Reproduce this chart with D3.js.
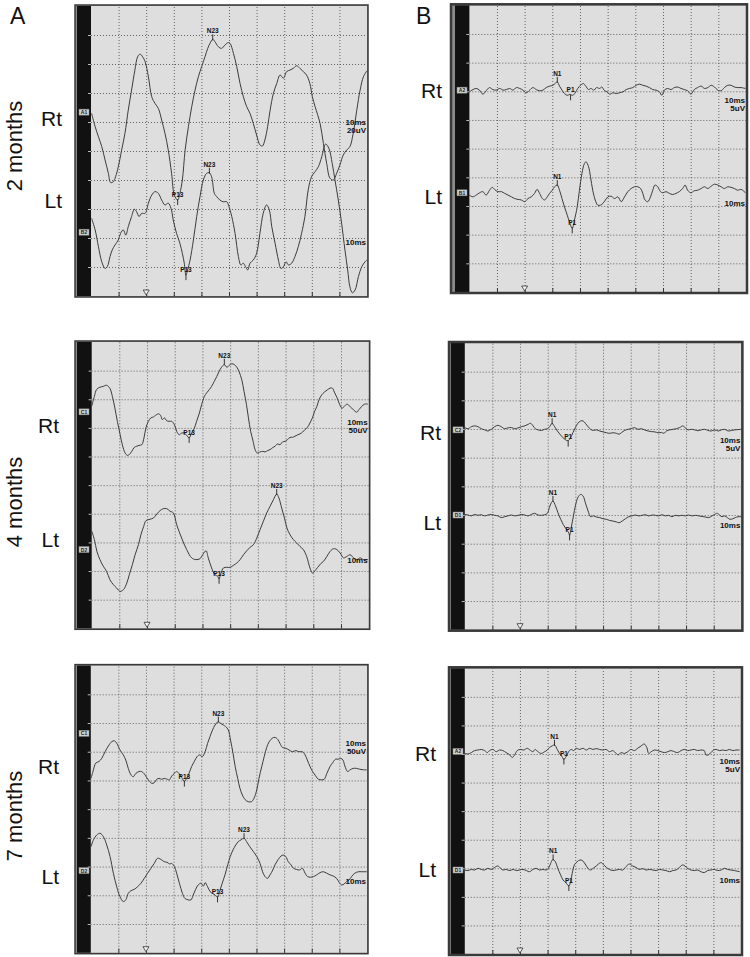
<!DOCTYPE html>
<html>
<head>
<meta charset="utf-8">
<script src="https://cdn.jsdelivr.net/npm/d3@7"></script>
<style>
  html, body { margin: 0; padding: 0; background: #fff; }
  svg { display: block; font-family: "Liberation Sans", Arial, sans-serif; }
</style>
</head>
<body>
<div id="chart"></div>
<script>
// time in ms (10 ms / division), amplitude in screen divisions above the panel bottom
const timeDomain = [0, 100];
const ampDomain = [0, 10];
const gridTimes = d3.range(10, 100, 10);
const gridAmps = d3.range(1, 10);
const stimulusMs = 20;

const panelLetters = ["A", "B"];
const ageLabels = ["2 months", "4 months", "7 months"];
const sideLabels = ["Rt", "Lt"];
const sweepLabel = "10ms";
const gainA = ["20uV", "50uV", "50uV"];
const gainB = ["5uV", "5uV", "5uV"];
const channelsA = [["A1", "B2"], ["C1", "D2"], ["C1", "D2"]];
const channelsB = [["A2", "B1"], ["C2", "D1"], ["A2", "D1"]];
const baselinesA = [[6.34, 2.2], [7.56, 2.75], [7.64, 2.86]];
const baselinesB = [[7.04, 3.46], [6.97, 4.0], [7.09, 2.94]];

// 2 months, column A
const rt2A = [[0.2,6.30],[1.5,5.84],[2.7,5.49],[3.9,5.15],[5.1,4.69],[6.3,4.23],[7.1,3.91],[8.1,3.94],[8.9,4.11],[9.9,4.46],[11.1,5.03],[12.3,5.61],[13.5,6.41],[14.7,7.10],[15.9,7.79],[16.9,8.25],[17.8,8.34],[18.7,8.25],[19.6,8.08],[20.8,7.56],[22.0,6.87],[23.2,6.64],[24.4,6.47],[25.6,6.07],[26.8,5.61],[28.0,5.03],[29.2,4.23],[30.2,3.48],[31.4,3.31],[32.2,3.54],[33.1,4.00],[34.1,5.03],[35.3,5.84],[36.5,6.53],[37.7,7.10],[38.9,7.56],[40.1,7.91],[41.3,8.25],[42.3,8.54],[43.1,8.71],[44.1,8.85],[44.9,8.77],[46.1,8.60],[47.3,8.54],[48.6,8.66],[49.8,8.74],[50.4,8.71],[51.6,8.37],[52.8,7.91],[54.0,7.33],[55.2,6.87],[56.4,6.53],[57.6,6.30],[58.8,5.95],[60.0,5.55],[61.2,5.21],[62.1,5.17],[63.0,5.38],[64.0,5.84],[64.9,6.41],[66.1,6.99],[67.3,7.33],[68.5,7.62],[69.7,7.51],[70.9,7.74],[72.1,7.79],[73.3,7.85],[74.5,7.94],[75.7,7.85],[76.9,7.74],[78.1,7.62],[79.3,7.33],[80.2,6.87],[81.2,6.53],[83.0,5.95],[84.2,5.26],[85.4,4.57],[86.6,4.06],[87.8,4.00],[89.0,4.23],[90.2,4.52],[91.4,4.86],[92.6,5.03],[93.8,5.15],[95.0,5.61],[96.3,6.41],[97.5,7.10],[98.7,7.56],[100,7.77]];
const lt2A = [[0.2,2.68],[1.5,2.28],[2.7,1.70],[3.9,1.18],[5.1,0.95],[5.9,1.01],[6.9,1.36],[7.7,1.59],[8.7,1.76],[9.9,1.93],[10.7,2.16],[11.7,2.28],[12.6,2.10],[13.5,2.39],[14.7,2.74],[15.7,2.99],[16.5,2.91],[17.4,2.74],[18.4,2.85],[19.6,2.85],[20.8,3.20],[22.0,3.48],[23.2,3.60],[24.4,3.54],[25.6,3.31],[26.8,3.14],[28.0,3.20],[29.0,3.02],[29.8,2.62],[31.0,2.16],[32.2,1.82],[33.1,1.47],[33.8,1.13],[34.4,0.72],[35.0,0.90],[35.9,1.24],[37.1,1.93],[38.3,2.74],[39.5,3.43],[40.7,4.00],[41.9,4.23],[42.9,4.25],[43.7,4.11],[44.7,3.54],[45.5,3.43],[46.7,3.31],[47.9,3.25],[49.2,3.25],[50.0,3.08],[51.0,2.74],[52.2,2.16],[53.4,1.36],[54.3,1.07],[55.2,1.13],[56.0,1.01],[56.8,0.90],[57.6,1.13],[58.8,1.24],[60.0,1.47],[61.2,2.16],[62.4,2.85],[63.6,3.14],[64.6,2.97],[65.5,2.39],[66.7,1.82],[67.9,1.24],[68.8,0.95],[69.7,1.01],[70.7,1.18],[71.5,1.07],[72.7,1.13],[73.9,1.36],[75.1,1.70],[76.3,2.16],[77.5,2.74],[78.7,3.66],[79.9,4.11],[81.2,4.29],[82.4,4.46],[83.6,4.80],[85.0,5.24],[86.2,5.09],[87.4,4.57],[88.4,4.00],[89.6,3.31],[90.8,2.51],[92.0,1.59],[93.0,0.90],[93.8,0.32],[94.7,0.11],[95.7,0.21],[96.9,0.67],[98.1,1.01],[99.3,1.18],[100,1.24]];
// 2 months, column B
const rt2B = [[0,6.98],[1.3,7.06],[2.5,7.10],[3.7,7.04],[4.9,6.90],[6.1,7.02],[7.3,7.13],[8.5,7.06],[9.7,7.04],[11.0,7.10],[12.2,7.04],[13.4,7.06],[14.6,7.10],[15.8,7.04],[17.0,7.13],[18.2,7.10],[19.4,7.04],[20.6,6.95],[21.8,7.04],[23.0,7.13],[24.2,7.06],[25.4,7.02],[26.6,7.04],[27.8,7.13],[29.0,7.18],[30.2,7.21],[31.0,7.27],[31.8,7.33],[32.6,7.18],[33.5,7.04],[34.4,6.92],[35.4,6.86],[36.3,6.89],[37.4,6.86],[38.3,6.95],[39.2,7.10],[40.2,7.21],[41.2,7.27],[42.1,7.18],[43.1,7.06],[44.0,7.10],[45.0,7.04],[46.0,7.13],[47.1,7.10],[47.9,7.15],[48.9,7.02],[49.8,6.98],[50.8,6.90],[51.9,6.95],[53.1,6.92],[54.3,6.95],[55.5,6.98],[56.7,7.06],[57.9,7.10],[59.1,7.13],[60.3,7.21],[61.5,7.25],[62.7,7.21],[63.9,7.18],[65.1,7.13],[66.3,7.06],[67.5,7.04],[68.7,6.98],[69.6,6.86],[70.5,7.04],[71.7,7.10],[72.9,7.06],[74.1,7.13],[75.3,7.15],[76.5,7.10],[77.7,7.06],[78.9,7.02],[80.1,6.90],[81.3,7.06],[82.5,7.13],[83.8,7.18],[85.0,7.10],[86.2,7.13],[87.4,7.21],[88.6,7.15],[89.8,7.04],[91.0,7.02],[92.2,7.13],[93.4,7.21],[94.6,7.21],[95.8,7.15],[97.0,7.13],[98.2,7.13],[99.8,7.10]];
const lt2B = [[0,3.38],[1.3,3.32],[2.5,3.38],[3.7,3.46],[4.9,3.50],[6.1,3.38],[7.3,3.55],[8.3,3.65],[9.1,3.58],[10.3,3.50],[11.6,3.50],[12.8,3.44],[14.0,3.38],[15.2,3.32],[16.4,3.26],[17.6,3.23],[18.8,3.21],[20.0,3.15],[21.2,3.26],[22.4,3.32],[23.6,3.44],[24.5,3.58],[25.4,3.44],[26.4,3.26],[27.2,3.21],[28.2,3.32],[29.0,3.44],[30.0,3.55],[30.8,3.67],[31.8,3.73],[32.6,3.55],[33.5,3.26],[34.4,2.97],[35.4,2.68],[36.2,2.45],[37.2,2.22],[38.0,2.51],[39.0,2.97],[39.8,3.55],[40.7,4.13],[41.6,4.48],[42.2,4.54],[43.1,4.37],[43.8,4.02],[44.6,3.55],[45.5,3.21],[46.4,3.03],[47.4,3.03],[48.3,3.09],[49.2,3.21],[50.1,3.32],[51.3,3.34],[52.5,3.26],[53.7,3.32],[54.9,3.15],[56.1,3.32],[57.3,3.50],[58.5,3.61],[59.7,3.67],[60.9,3.67],[61.9,3.61],[62.7,3.44],[63.5,3.21],[64.5,3.15],[65.5,3.32],[66.3,3.55],[67.1,3.73],[68.1,3.67],[69.1,3.50],[69.9,3.46],[71.1,3.50],[72.3,3.44],[73.5,3.40],[74.7,3.44],[75.9,3.50],[77.1,3.61],[78.0,3.73],[78.9,3.55],[80.1,3.46],[81.3,3.53],[82.5,3.55],[83.8,3.61],[85.0,3.67],[86.2,3.61],[87.4,3.69],[88.6,3.76],[89.8,3.73],[91.0,3.67],[92.2,3.61],[93.4,3.67],[94.6,3.65],[95.8,3.61],[97.0,3.55],[98.2,3.58],[99.8,3.46]];
// 4 months, column A
const rt4A = [[0,7.75],[1.0,8.10],[1.8,8.34],[3.0,8.42],[4.2,8.45],[5.4,8.49],[6.6,8.38],[7.5,8.10],[8.4,7.69],[9.3,7.23],[10.3,6.76],[11.1,6.41],[12.1,6.12],[12.9,6.04],[13.6,6.07],[14.5,6.18],[15.4,6.32],[16.3,6.36],[17.1,6.39],[18.1,6.41],[18.9,6.65],[19.6,7.00],[20.5,7.23],[21.4,7.35],[22.3,7.38],[23.1,7.44],[24.1,7.49],[24.9,7.44],[25.5,7.29],[26.3,7.35],[27.1,7.25],[27.9,7.23],[28.9,7.23],[29.9,7.11],[30.7,6.88],[31.6,6.76],[32.5,6.82],[33.4,6.82],[34.3,6.74],[35.2,6.65],[36.1,6.82],[37.0,6.97],[37.9,7.23],[38.9,7.52],[39.7,7.81],[40.7,8.10],[41.5,8.22],[42.5,8.34],[43.3,8.45],[44.3,8.63],[45.2,8.80],[46.0,8.97],[46.9,9.12],[47.9,9.21],[48.8,9.12],[49.6,9.18],[50.6,9.24],[51.5,9.21],[52.4,9.12],[53.2,8.97],[54.2,8.68],[55.0,8.28],[55.9,7.81],[56.6,7.35],[57.4,6.88],[58.3,6.53],[59.0,6.24],[59.8,6.12],[60.8,6.16],[61.8,6.18],[62.6,6.16],[63.6,6.21],[64.4,6.24],[65.2,6.30],[66.2,6.36],[67.1,6.44],[68.0,6.41],[68.9,6.51],[69.8,6.53],[70.7,6.59],[71.6,6.67],[72.5,6.67],[73.4,6.71],[74.4,6.76],[75.2,6.79],[76.1,6.85],[77.0,6.94],[77.9,7.02],[78.8,7.17],[79.7,7.35],[80.4,7.56],[81.3,7.75],[82.1,7.99],[83.1,8.16],[84.0,8.25],[85.1,8.33],[86.1,8.39],[86.9,8.39],[87.6,8.25],[88.5,8.07],[89.3,7.87],[90.3,7.69],[91.2,7.75],[92.1,7.83],[92.9,7.78],[93.9,7.69],[94.7,7.61],[95.7,7.55],[96.5,7.64],[97.5,7.75],[98.5,7.83],[99.7,7.83]];
const lt4A = [[0,3.41],[1.0,3.10],[1.9,2.69],[3.0,2.40],[4.2,2.17],[5.4,1.99],[6.6,1.70],[7.8,1.53],[9.0,1.41],[10.3,1.29],[11.5,1.35],[12.7,1.58],[13.6,1.87],[14.7,2.22],[15.7,2.57],[16.9,2.92],[17.8,3.27],[18.8,3.56],[19.6,3.76],[20.7,3.80],[22.3,3.85],[23.5,3.99],[24.7,4.11],[25.9,4.18],[27.1,4.18],[28.3,4.09],[29.5,4.03],[30.7,3.62],[32.5,3.15],[34.3,2.75],[36.1,2.46],[37.6,2.40],[39.1,2.43],[40.1,2.57],[41.3,2.71],[42.1,2.46],[43.3,2.11],[44.5,1.87],[45.5,1.82],[46.0,1.73],[46.7,1.93],[47.6,2.11],[48.8,2.13],[50.0,2.13],[51.2,2.20],[52.4,2.28],[53.6,2.40],[54.8,2.57],[56.0,2.71],[57.2,2.83],[58.4,2.92],[59.6,3.15],[60.8,3.45],[62.0,3.74],[63.2,4.03],[64.4,4.26],[65.6,4.49],[66.8,4.69],[67.6,4.55],[68.6,4.20],[69.6,3.85],[70.5,3.50],[71.6,3.27],[72.8,3.10],[74.0,2.98],[75.2,2.86],[76.4,2.75],[77.6,2.51],[78.8,2.11],[79.7,1.93],[80.6,2.01],[81.6,2.13],[82.6,2.25],[83.7,2.34],[84.9,2.51],[86.1,2.69],[87.3,2.78],[88.5,2.75],[89.7,2.63],[90.9,2.46],[92.1,2.51],[93.3,2.57],[94.5,2.46],[95.7,2.40],[96.9,2.46],[98.1,2.40],[99.7,2.40]];
// 4 months, column B
const rt4B = [[0,7.05],[1.2,7.01],[2.4,7.08],[3.6,7.11],[4.8,7.08],[6.0,7.01],[7.2,6.97],[8.4,6.93],[9.6,6.99],[10.8,7.08],[12.0,7.13],[13.2,7.08],[14.4,7.01],[15.6,7.04],[16.9,7.05],[18.1,7.01],[19.3,7.04],[20.5,7.08],[21.7,7.11],[22.9,7.16],[23.8,7.20],[24.7,7.11],[25.5,7.01],[26.5,6.97],[27.7,6.95],[28.9,6.99],[29.9,7.01],[30.7,7.08],[31.6,7.20],[32.5,7.08],[33.5,6.93],[34.4,6.82],[35.5,6.70],[36.5,6.62],[37.3,6.59],[38.3,6.70],[39.1,6.87],[40.0,7.05],[40.9,7.20],[41.9,7.28],[42.8,7.28],[43.6,7.20],[44.6,7.08],[45.5,6.99],[46.5,6.95],[47.6,6.97],[48.8,6.93],[50.0,6.90],[51.2,6.87],[52.4,6.85],[53.6,6.87],[54.8,6.85],[55.8,6.82],[56.6,6.87],[57.8,6.95],[59.0,6.99],[60.2,7.01],[61.4,7.05],[62.6,6.99],[63.8,7.01],[65.0,6.97],[66.3,6.93],[67.5,6.91],[68.7,6.90],[69.9,6.87],[71.1,6.88],[72.0,6.85],[72.9,6.93],[74.1,6.97],[75.3,6.99],[76.5,7.01],[77.7,7.05],[78.9,7.11],[79.7,7.04],[80.7,6.97],[81.9,6.99],[83.1,6.97],[84.3,6.94],[85.5,6.97],[86.7,6.99],[87.9,6.95],[89.1,6.93],[90.3,6.97],[91.6,6.93],[92.8,6.97],[94.0,6.99],[95.2,6.93],[96.4,6.95],[97.6,6.97],[98.8,6.98],[100,6.99]];
const lt4B = [[0,4.02],[1.2,4.00],[2.4,3.97],[3.6,4.02],[4.8,3.99],[6.0,4.01],[7.2,3.97],[8.4,4.00],[9.6,4.02],[10.8,3.99],[12.0,3.97],[13.2,3.91],[14.4,3.94],[15.6,3.97],[16.9,4.00],[18.1,3.97],[19.3,3.99],[20.5,4.02],[21.7,4.00],[22.9,3.97],[24.1,4.02],[25.3,4.06],[26.5,4.00],[27.7,3.99],[28.9,4.01],[29.9,4.06],[30.6,4.26],[31.3,4.43],[31.9,4.49],[32.8,4.32],[33.7,4.08],[34.7,3.85],[35.6,3.67],[36.6,3.52],[37.6,3.38],[37.9,3.29],[38.5,3.56],[39.3,3.97],[40.0,4.32],[40.9,4.61],[41.9,4.72],[42.8,4.66],[43.6,4.43],[44.6,4.14],[45.5,3.94],[46.5,3.97],[47.6,3.93],[48.8,3.91],[50.0,3.87],[51.2,3.85],[52.4,3.81],[53.6,3.79],[54.8,3.76],[55.8,3.73],[56.9,3.79],[58.1,3.87],[59.3,3.94],[60.5,3.97],[61.7,4.00],[62.9,3.97],[64.1,3.99],[65.3,4.01],[66.5,3.97],[67.7,4.00],[68.9,3.99],[70.1,3.97],[71.3,4.01],[72.5,3.97],[73.7,3.99],[74.9,3.94],[76.1,3.99],[77.3,3.97],[78.5,3.99],[79.7,3.97],[80.9,4.00],[82.2,3.97],[83.4,3.99],[84.6,3.97],[85.8,3.95],[87.0,3.93],[88.2,3.91],[89.4,3.97],[90.3,4.02],[91.3,4.06],[92.2,3.99],[93.0,3.94],[94.0,3.97],[94.9,3.91],[95.9,3.85],[96.9,3.87],[97.8,3.91],[98.8,3.94],[100,3.94]];
// 7 months, column A
const rt7A = [[0.1,6.07],[1.0,6.37],[1.8,6.60],[3.0,6.66],[4.0,6.77],[5.2,7.00],[6.4,7.20],[7.6,7.35],[8.6,7.38],[9.4,7.30],[10.6,7.06],[11.8,6.89],[12.7,6.71],[13.6,6.42],[14.6,6.19],[15.4,6.13],[16.4,6.25],[17.5,6.31],[18.4,6.31],[19.4,6.23],[20.2,6.11],[21.1,5.99],[22.1,5.90],[23.0,5.92],[23.9,6.04],[24.7,6.07],[25.7,6.04],[26.6,6.07],[27.5,6.05],[28.5,6.02],[29.3,6.15],[30.3,6.25],[31.1,6.31],[31.9,6.25],[32.9,6.11],[33.9,5.96],[34.7,6.07],[35.6,6.25],[36.5,6.48],[37.5,6.66],[38.5,6.83],[39.4,6.89],[40.4,6.83],[41.4,7.00],[42.3,7.29],[43.2,7.53],[44.1,7.76],[45.0,7.93],[46.2,8.05],[47.0,7.99],[48.0,7.93],[48.8,7.88],[49.8,7.76],[50.6,7.41],[51.5,6.95],[52.3,6.48],[53.2,6.07],[54.0,5.73],[54.9,5.49],[55.8,5.34],[57.0,5.26],[58.2,5.26],[59.1,5.38],[60.1,5.67],[60.9,6.07],[61.9,6.48],[62.8,6.83],[63.7,7.15],[64.6,7.35],[65.7,7.47],[66.7,7.50],[67.7,7.43],[68.5,7.29],[69.4,7.15],[70.6,7.12],[71.8,7.06],[73.0,7.00],[74.2,7.04],[75.4,7.00],[76.6,7.00],[77.6,6.89],[78.4,6.71],[79.4,6.48],[80.3,6.31],[81.4,6.16],[82.4,6.04],[83.6,6.02],[84.5,6.04],[85.5,6.25],[86.6,6.48],[87.6,6.62],[88.6,6.74],[89.6,6.74],[90.5,6.77],[91.3,6.71],[92.0,6.50],[93.0,6.31],[93.9,6.37],[95.0,6.42],[96.2,6.42],[97.4,6.39],[98.7,6.37],[99.9,6.37]];
const lt7A = [[0.1,3.69],[1.0,3.93],[2.2,4.10],[3.4,4.16],[4.6,4.04],[5.8,3.75],[7.0,3.35],[8.2,2.77],[9.4,2.30],[10.6,1.95],[11.8,1.78],[12.7,1.84],[13.6,2.07],[14.6,2.16],[15.8,2.21],[17.0,2.30],[18.2,2.42],[19.4,2.59],[20.6,2.77],[21.8,2.94],[23.0,3.11],[24.2,3.29],[25.4,3.25],[26.6,3.17],[27.6,3.15],[28.6,3.09],[29.3,3.11],[30.3,3.00],[31.1,2.77],[32.1,2.42],[33.2,2.07],[34.1,1.89],[35.3,1.84],[36.3,1.84],[37.1,2.01],[38.0,2.21],[38.9,2.36],[39.9,2.42],[40.8,2.32],[41.4,2.44],[42.3,2.30],[43.2,2.13],[44.0,2.07],[45.0,2.01],[45.9,1.93],[46.8,2.18],[47.6,2.42],[48.6,2.71],[49.6,3.06],[50.5,3.35],[51.5,3.58],[52.5,3.75],[53.4,3.87],[54.4,3.93],[55.5,3.99],[56.4,3.87],[57.6,3.69],[58.9,3.52],[60.1,3.35],[61.3,3.11],[62.2,2.82],[63.1,2.65],[64.0,2.59],[64.9,2.71],[65.9,2.88],[66.7,3.06],[67.9,3.25],[68.9,3.37],[69.7,3.40],[70.6,3.35],[71.5,3.17],[72.5,3.06],[73.4,2.94],[74.5,2.90],[75.6,2.88],[76.6,2.94],[77.6,2.77],[78.5,2.65],[79.5,2.63],[80.6,2.65],[81.8,2.71],[83.0,2.79],[84.2,2.82],[85.4,2.77],[86.6,2.71],[87.8,2.67],[89.0,2.59],[90.0,2.44],[90.8,2.36],[91.7,2.39],[92.6,2.48],[93.5,2.53],[94.4,2.65],[95.6,2.77],[96.9,2.82],[98.1,2.82],[99.9,2.82]];
// 7 months, column B
const rt7B = [[0,7.02],[1.2,7.00],[2.4,7.05],[3.6,7.12],[4.8,7.14],[6.0,7.16],[7.2,7.12],[8.2,7.05],[9.0,7.12],[10.2,7.16],[11.4,7.08],[12.6,7.14],[13.8,7.12],[15.0,7.05],[16.3,6.97],[17.2,6.88],[18.1,6.97],[19.0,7.12],[20.2,7.16],[21.4,7.14],[22.6,7.20],[23.6,7.14],[24.7,7.08],[25.5,7.16],[26.5,7.08],[27.7,7.02],[28.9,7.08],[29.9,7.14],[30.7,7.23],[31.6,7.28],[32.5,7.32],[33.5,7.16],[34.3,7.02],[35.2,6.91],[35.9,6.81],[36.7,6.91],[37.6,7.08],[38.5,7.16],[39.5,7.12],[40.3,7.20],[41.6,7.16],[42.8,7.20],[44.0,7.14],[45.2,7.20],[46.4,7.16],[47.6,7.19],[48.8,7.16],[50.0,7.14],[51.2,7.16],[52.4,7.08],[53.6,7.12],[54.8,7.02],[55.6,6.97],[56.6,7.05],[57.8,7.02],[59.0,7.08],[60.2,7.16],[61.4,7.12],[62.6,7.20],[63.8,7.28],[65.0,7.35],[65.9,7.23],[66.6,7.02],[67.5,7.08],[68.7,7.14],[69.9,7.12],[71.1,7.08],[72.3,7.05],[73.5,7.08],[74.7,7.12],[75.9,7.08],[77.1,7.05],[78.3,7.12],[79.5,7.16],[80.7,7.12],[81.9,7.14],[83.1,7.16],[84.3,7.12],[85.5,7.14],[86.7,7.12],[87.3,6.97],[88.2,6.97],[89.1,7.05],[90.1,7.14],[91.0,7.16],[92.2,7.12],[93.4,7.14],[94.6,7.12],[95.8,7.16],[97.0,7.12],[98.2,7.14],[99.5,7.14]];
const lt7B = [[0,2.94],[1.2,2.92],[2.4,2.96],[3.6,2.94],[4.8,3.00],[6.0,2.96],[7.2,2.94],[8.4,3.00],[9.6,2.96],[10.8,3.03],[12.0,3.08],[13.0,3.00],[13.8,2.94],[15.0,2.96],[16.3,2.92],[17.5,2.96],[18.7,2.92],[19.9,2.94],[21.1,2.96],[22.3,2.92],[23.5,2.88],[24.7,2.96],[25.9,3.00],[27.1,2.94],[28.3,2.96],[29.5,2.94],[30.3,3.00],[31.1,3.17],[31.7,3.29],[32.0,3.31],[32.8,3.23],[33.7,3.00],[34.7,2.77],[35.6,2.59],[36.6,2.50],[37.7,2.38],[38.3,2.53],[38.9,2.82],[39.7,3.12],[40.7,3.23],[41.7,3.29],[42.6,3.27],[43.6,3.15],[44.6,3.00],[45.5,2.94],[46.5,3.00],[47.6,3.08],[48.4,3.15],[49.4,3.20],[50.3,3.12],[51.3,3.03],[52.4,2.96],[53.6,2.92],[54.8,2.94],[56.0,2.96],[57.2,2.94],[58.4,3.06],[59.6,3.15],[60.8,3.08],[62.0,3.03],[63.2,2.96],[64.4,2.99],[65.6,2.94],[66.9,2.96],[68.1,2.94],[69.3,2.92],[70.5,2.96],[71.7,2.94],[72.9,2.92],[74.1,2.88],[75.3,2.92],[76.5,2.94],[77.7,3.03],[78.9,3.12],[79.7,3.08],[80.7,3.00],[81.9,2.94],[83.1,2.92],[84.3,2.94],[85.5,2.88],[86.7,2.85],[87.9,2.92],[89.1,2.94],[90.3,2.96],[91.6,2.92],[92.8,2.94],[94.0,3.00],[95.2,2.96],[96.4,2.94],[97.6,2.92],[99.5,2.88]];

// peak marks: [label, trace index (0 = Rt, 1 = Lt), latency ms, amplitude div]
const peaks2A = [["N23",0,44.1,8.85],["P13",0,31.4,3.31],["N23",1,42.9,4.25],["P13",1,34.4,0.72]];
const peaks2B = [["N1",0,31.8,7.33],["P1",0,36.6,6.86],["N1",1,31.8,3.73],["P1",1,37.2,2.22]];
const peaks4A = [["N23",0,47.9,9.24],["P13",0,35.2,6.65],["N23",1,66.8,4.69],["P13",1,46.0,1.73]];
const peaks4B = [["N1",0,31.6,7.20],["P1",0,37.4,6.56],["N1",1,31.9,4.49],["P1",1,37.9,3.29]];
const peaks7A = [["N23",0,46.2,8.05],["P13",0,33.9,5.96],["N23",1,55.5,3.99],["P13",1,45.9,1.93]];
const peaks7B = [["N1",0,32.5,7.32],["P1",0,35.9,6.81],["N1",1,32.0,3.31],["P1",1,37.7,2.38]];

const svg = d3.select("#chart").append("svg")
  .attr("width", 750)
  .attr("height", 957);

// panel boxes on the page
const layout = [
  {bar: 77,  strip: 2, x0: 91,    x1: 367,   y0: 6,     y1: 296,   rt: [62, 126],  lt: [62, 208],  frame: 1.5},
  {bar: 455, strip: 4, x0: 469.3, x1: 746,   y0: 5.3,   y1: 292,   rt: [442, 98],  lt: [442, 204], frame: 2.5},
  {bar: 77,  strip: 2, x0: 91.6,  x1: 368.7, y0: 342,   y1: 628.3, rt: [59, 433],  lt: [59, 547],  frame: 1.5},
  {bar: 451, strip: 2, x0: 464.7, x1: 741.4, y0: 343,   y1: 629.7, rt: [441, 440], lt: [441, 530], frame: 2.5},
  {bar: 77,  strip: 2, x0: 90.7,  x1: 367,   y0: 665.6, y1: 952.7, rt: [59, 774],  lt: [59, 884],  frame: 1.5},
  {bar: 451, strip: 2, x0: 464.7, x1: 741,   y0: 668.3, y1: 954,   rt: [436, 761], lt: [436, 877], frame: 2.5}
];

const traces = [[rt2A, lt2A], [rt2B, lt2B], [rt4A, lt4A], [rt4B, lt4B], [rt7A, lt7A], [rt7B, lt7B]];
const peaks = [peaks2A, peaks2B, peaks4A, peaks4B, peaks7A, peaks7B];

layout.forEach((p, i) => {
  const row = Math.floor(i / 2);
  const isB = i % 2 === 1;
  const names = isB ? channelsB[row] : channelsA[row];
  const bases = isB ? baselinesB[row] : baselinesA[row];
  const gain = isB ? gainB[row] : gainA[row];

  const x = d3.scaleLinear().domain(timeDomain).range([p.x0, p.x1]);
  const y = d3.scaleLinear().domain(ampDomain).range([p.y1, p.y0]);
  const g = svg.append("g");

  // outer frame + screen
  g.append("rect")
    .attr("x", p.bar - p.strip).attr("y", p.y0 - 1)
    .attr("width", p.x1 - p.bar + p.strip + 1).attr("height", p.y1 - p.y0 + 2)
    .attr("fill", "#8a8a8a");
  g.append("rect")
    .attr("x", p.x0).attr("y", p.y0)
    .attr("width", p.x1 - p.x0).attr("height", p.y1 - p.y0)
    .attr("fill", "#dedede");
  g.append("rect")
    .attr("x", p.bar).attr("y", p.y0)
    .attr("width", p.x0 - p.bar).attr("height", p.y1 - p.y0)
    .attr("fill", "#111");

  // dotted grid
  const vGrid = g.append("g")
    .attr("transform", "translate(0," + p.y1 + ")")
    .call(d3.axisBottom(x).tickValues(gridTimes).tickSize(-(p.y1 - p.y0)).tickFormat(""));
  const hGrid = g.append("g")
    .attr("transform", "translate(" + p.x0 + ",0)")
    .call(d3.axisLeft(y).tickValues(gridAmps).tickSize(-(p.x1 - p.x0)).tickFormat(""));
  [vGrid, hGrid].forEach(a => {
    a.select(".domain").remove();
    a.selectAll("line").attr("stroke", "#555").attr("stroke-width", 0.9).attr("stroke-dasharray", "1,2");
  });

  // solid short ticks on bottom edge and white ticks on the black bar
  const bTicks = g.append("g")
    .attr("transform", "translate(0," + p.y1 + ")")
    .call(d3.axisBottom(x).tickValues(gridTimes).tickSize(-4).tickFormat(""));
  bTicks.select(".domain").remove();
  bTicks.selectAll("line").attr("stroke", "#333").attr("stroke-width", 1);
  const lTicks = g.append("g")
    .attr("transform", "translate(" + p.x0 + ",0)")
    .call(d3.axisLeft(y).tickValues(gridAmps).tickSize(3).tickFormat(""));
  lTicks.select(".domain").remove();
  lTicks.selectAll("line").attr("stroke", "#bbb").attr("stroke-width", 1);

  // stimulus marker
  const sx = x(stimulusMs);
  g.append("path")
    .attr("d", `M${sx - 3},${p.y1 - 6}L${sx + 3},${p.y1 - 6}L${sx},${p.y1 - 1}Z`)
    .attr("fill", "#f4f4f4").attr("stroke", "#333").attr("stroke-width", 0.8);

  // frame line
  g.append("rect")
    .attr("x", p.bar - p.strip).attr("y", p.y0 - 1)
    .attr("width", p.x1 - p.bar + p.strip + 1).attr("height", p.y1 - p.y0 + 2)
    .attr("fill", "none").attr("stroke", "#3a3a3a").attr("stroke-width", p.frame);

  // traces
  const line = d3.line()
    .x(d => x(d[0]))
    .y(d => y(d[1]))
    .curve(d3.curveCatmullRom.alpha(0.5));
  traces[i].forEach(tr => {
    g.append("path")
      .datum(tr)
      .attr("d", line)
      .attr("fill", "none")
      .attr("stroke", "#3c3c3c")
      .attr("stroke-width", 1);
  });

  // channel tags on the black bar
  names.forEach((nm, k) => {
    const cy = y(bases[k]);
    g.append("rect")
      .attr("x", p.bar + 2).attr("y", cy - 3)
      .attr("width", 10).attr("height", 6)
      .attr("fill", "#cfcfcf").attr("stroke", "#888").attr("stroke-width", 0.5);
    g.append("text")
      .attr("x", p.bar + 7).attr("y", cy + 2)
      .attr("text-anchor", "middle")
      .attr("font-size", 5).attr("font-weight", "bold").attr("fill", "#222")
      .text(nm);

    // sweep / gain on the right edge
    g.append("text")
      .attr("x", p.x1 - 1).attr("y", cy + 13)
      .attr("text-anchor", "end")
      .attr("font-size", 8).attr("font-weight", "bold").attr("fill", "#111")
      .text(sweepLabel);
    if (k === 0) {
      g.append("text")
        .attr("x", p.x1 - 1).attr("y", cy + 21)
        .attr("text-anchor", "end")
        .attr("font-size", 8).attr("font-weight", "bold").attr("fill", "#111")
        .text(gain);
    }
  });

  // peak marks
  peaks[i].forEach(([name, , t, v]) => {
    const px = x(t), py = y(v);
    const neg = name[0] === "N";
    g.append("line")
      .attr("x1", px).attr("x2", px)
      .attr("y1", neg ? py - 5 : py - 1)
      .attr("y2", neg ? py + 1 : py + 5)
      .attr("stroke", "#222").attr("stroke-width", 0.9);
    g.append("text")
      .attr("x", px).attr("y", neg ? py - 6 : py - 3)
      .attr("text-anchor", "middle")
      .attr("font-size", 6.5).attr("font-weight", "bold").attr("fill", "#111")
      .text(name);
  });

  // Rt / Lt
  [p.rt, p.lt].forEach((pos, k) => {
    svg.append("text")
      .attr("x", pos[0]).attr("y", pos[1])
      .attr("text-anchor", "end")
      .attr("font-size", 21).attr("fill", "#111")
      .text(sideLabels[k]);
  });
});

// column letters
[[10, 24], [416, 24]].forEach((pos, k) => {
  svg.append("text")
    .attr("x", pos[0]).attr("y", pos[1])
    .attr("font-size", 23).attr("fill", "#111")
    .text(panelLetters[k]);
});

// age labels, rotated
[146, 502, 816].forEach((cy, k) => {
  svg.append("text")
    .attr("transform", "translate(22," + cy + ") rotate(-90)")
    .attr("text-anchor", "middle")
    .attr("font-size", 22).attr("fill", "#111")
    .text(ageLabels[k]);
});
</script>
</body>
</html>
